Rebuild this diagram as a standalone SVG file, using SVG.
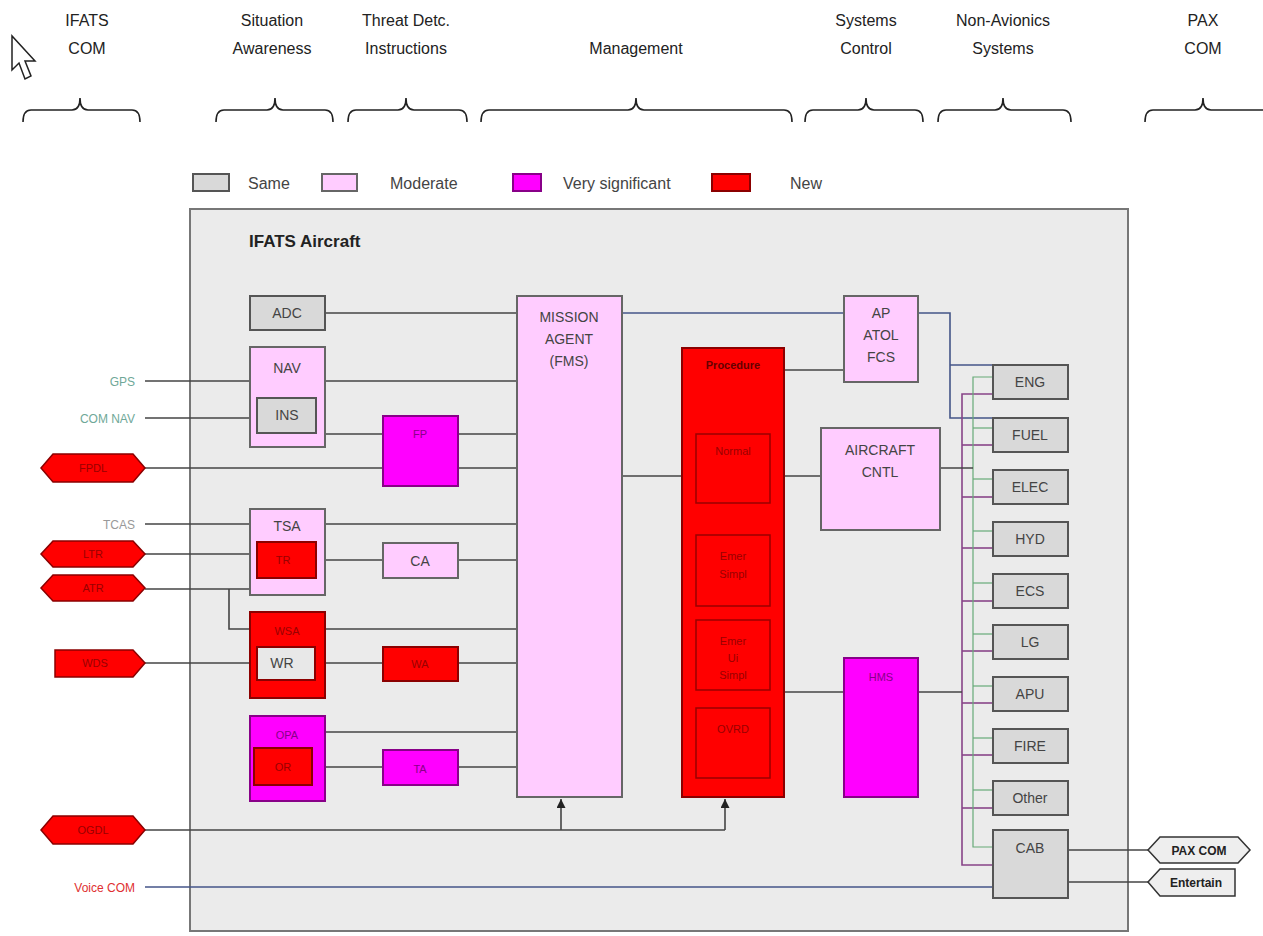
<svg xmlns="http://www.w3.org/2000/svg" width="1263" height="936" viewBox="0 0 1263 936">
<style>
text{font-family:"Liberation Sans",Arial,sans-serif}
.hdr{font-size:16px;fill:#222;text-anchor:middle}
.brace{fill:none;stroke:#222;stroke-width:1.6}
.leg{font-size:16px;fill:#444}
.same{fill:#d9d9d9;stroke:#555;stroke-width:2}
.mod{fill:#ffccff;stroke:#666;stroke-width:2}
.vs{fill:#ff00ff;stroke:#880088;stroke-width:2}
.new{fill:#ff0000;stroke:#8b0000;stroke-width:2}
.lbl{font-size:14px;fill:#444;text-anchor:middle}
.rl{font-size:11px;fill:#990000;text-anchor:middle}
.ml{font-size:11px;fill:#880088;text-anchor:middle}
.ln{fill:none;stroke:#444;stroke-width:1.6}
.bl{fill:none;stroke:#445588;stroke-width:1.6}
.pl{fill:none;stroke:#884488;stroke-width:1.6}
.gl{fill:none;stroke:#66aa77;stroke-width:1.2}
.hex{fill:#ff0000;stroke:#8b0000;stroke-width:1.5}
.out{fill:#eeeeee;stroke:#333;stroke-width:1.5}
</style>
<defs>
<marker id="arr" viewBox="0 0 10 10" refX="10" refY="5" markerWidth="9" markerHeight="9" orient="auto" markerUnits="userSpaceOnUse">
<path d="M0,0 L10,5 L0,10 Z" fill="#222"/>
</marker>
</defs>
<rect width="1263" height="936" fill="#ffffff"/>
<g id="cursor"><polygon points="12,36 12,70 19,63 25,79 31,76 25,61 35,61" fill="#fff" stroke="#222" stroke-width="1.5"/></g>
<g id="headers">
<text class="hdr" x="87" y="26">IFATS</text><text class="hdr" x="87" y="54">COM</text>
<text class="hdr" x="272" y="26">Situation</text><text class="hdr" x="272" y="54">Awareness</text>
<text class="hdr" x="406" y="26">Threat Detc.</text><text class="hdr" x="406" y="54">Instructions</text>
<text class="hdr" x="636" y="54">Management</text>
<text class="hdr" x="866" y="26">Systems</text><text class="hdr" x="866" y="54">Control</text>
<text class="hdr" x="1003" y="26">Non-Avionics</text><text class="hdr" x="1003" y="54">Systems</text>
<text class="hdr" x="1203" y="26">PAX</text><text class="hdr" x="1203" y="54">COM</text>
<path class="brace" d="M23,122 Q23,110 31,110 L72,110 Q80,110 80,98 Q80,110 88,110 L132,110 Q140,110 140,122"/>
<path class="brace" d="M216,122 Q216,110 224,110 L267,110 Q275,110 275,98 Q275,110 283,110 L325,110 Q333,110 333,122"/>
<path class="brace" d="M348,122 Q348,110 356,110 L398,110 Q406,110 406,98 Q406,110 414,110 L459,110 Q467,110 467,122"/>
<path class="brace" d="M481,122 Q481,110 489,110 L628,110 Q636,110 636,98 Q636,110 644,110 L784,110 Q792,110 792,122"/>
<path class="brace" d="M805,122 Q805,110 813,110 L858,110 Q866,110 866,98 Q866,110 874,110 L915,110 Q923,110 923,122"/>
<path class="brace" d="M938,122 Q938,110 946,110 L995,110 Q1003,110 1003,98 Q1003,110 1011,110 L1063,110 Q1071,110 1071,122"/>
<path class="brace" d="M1145,122 Q1145,110 1153,110 L1195,110 Q1203,110 1203,98 Q1203,110 1211,110 L1263,110"/>
</g>
<g id="legend">
<rect class="same" x="193" y="174" width="36" height="17"/><text class="leg" x="248" y="189">Same</text>
<rect class="mod" x="322" y="174" width="35" height="17"/><text class="leg" x="390" y="189">Moderate</text>
<rect class="vs" x="513" y="174" width="28" height="17"/><text class="leg" x="563" y="189">Very significant</text>
<rect class="new" x="712" y="174" width="38" height="17"/><text class="leg" x="790" y="189">New</text>
</g>
<g id="aircraft">
<rect x="190" y="209" width="938" height="722" fill="#ebebeb" stroke="#777" stroke-width="2"/>
<text x="249" y="247" font-size="17" font-weight="bold" fill="#222">IFATS Aircraft</text>
</g>
<g id="connectors">
<line class="ln" x1="145" y1="381" x2="250" y2="381"/>
<line class="ln" x1="145" y1="418" x2="250" y2="418"/>
<line class="ln" x1="145" y1="468" x2="517" y2="468"/>
<line class="ln" x1="325" y1="313" x2="517" y2="313"/>
<line class="ln" x1="325" y1="381" x2="517" y2="381"/>
<line class="ln" x1="325" y1="434" x2="517" y2="434"/>
<line class="ln" x1="145" y1="524" x2="250" y2="524"/>
<line class="ln" x1="325" y1="524" x2="517" y2="524"/>
<line class="ln" x1="145" y1="554" x2="250" y2="554"/>
<line class="ln" x1="325" y1="560" x2="517" y2="560"/>
<polyline class="ln" points="145,589 250,589"/>
<polyline class="ln" points="229,589 229,629 250,629"/>
<line class="ln" x1="325" y1="629" x2="517" y2="629"/>
<line class="ln" x1="145" y1="663" x2="257" y2="663"/>
<line class="ln" x1="315" y1="663" x2="517" y2="663"/>
<line class="ln" x1="325" y1="732" x2="517" y2="732"/>
<line class="ln" x1="312" y1="767" x2="517" y2="767"/>
<polyline class="ln" points="145,830 725,830"/>
<line class="ln" x1="561" y1="830" x2="561" y2="799" marker-end="url(#arr)"/>
<line class="ln" x1="725" y1="830" x2="725" y2="799" marker-end="url(#arr)"/>
<line class="bl" x1="145" y1="887" x2="993" y2="887"/>
<line class="bl" x1="622" y1="313" x2="844" y2="313"/>
<line class="ln" x1="784" y1="370" x2="844" y2="370"/>
<line class="ln" x1="622" y1="476" x2="682" y2="476"/>
<line class="ln" x1="784" y1="476" x2="821" y2="476"/>
<line class="ln" x1="784" y1="692" x2="844" y2="692"/>
<polyline class="bl" points="918,313 950,313 950,418 993,418"/>
<line class="bl" x1="950" y1="365" x2="993" y2="365"/>
<polyline class="pl" points="993,394 962,394 962,865 993,865"/>
<line class="pl" x1="962" y1="445" x2="993" y2="445"/>
<line class="pl" x1="962" y1="497" x2="993" y2="497"/>
<line class="pl" x1="962" y1="548" x2="993" y2="548"/>
<line class="pl" x1="962" y1="601" x2="993" y2="601"/>
<line class="pl" x1="962" y1="651" x2="993" y2="651"/>
<line class="pl" x1="962" y1="703" x2="993" y2="703"/>
<line class="pl" x1="962" y1="755" x2="993" y2="755"/>
<line class="pl" x1="962" y1="808" x2="993" y2="808"/>
<line class="ln" x1="918" y1="692" x2="962" y2="692"/>
<polyline class="gl" points="993,377 973,377 973,847 993,847"/>
<line class="gl" x1="973" y1="428" x2="993" y2="428"/>
<line class="gl" x1="973" y1="479" x2="993" y2="479"/>
<line class="gl" x1="973" y1="531" x2="993" y2="531"/>
<line class="gl" x1="973" y1="583" x2="993" y2="583"/>
<line class="gl" x1="973" y1="634" x2="993" y2="634"/>
<line class="gl" x1="973" y1="686" x2="993" y2="686"/>
<line class="gl" x1="973" y1="738" x2="993" y2="738"/>
<line class="gl" x1="973" y1="790" x2="993" y2="790"/>
<line class="ln" x1="940" y1="468" x2="973" y2="468" stroke="#557766"/>
<line class="ln" x1="1068" y1="850" x2="1148" y2="850"/>
<line class="ln" x1="1068" y1="882" x2="1148" y2="882"/>
</g>
<g id="ext-labels">
<text x="135" y="386" font-size="12" fill="#6fa898" text-anchor="end">GPS</text>
<text x="135" y="423" font-size="12" fill="#6fa898" text-anchor="end">COM NAV</text>
<text x="135" y="529" font-size="12" fill="#999" text-anchor="end">TCAS</text>
<text x="135" y="892" font-size="12" fill="#e03030" text-anchor="end">Voice COM</text>
</g>
<g id="FPDL"><polygon class="hex" points="41,468 53,454 133,454 145,468 133,482 53,482"/><text class="rl" x="93" y="472">FPDL</text></g>
<g id="LTR"><polygon class="hex" points="41,554 53,541 133,541 145,554 133,567 53,567"/><text class="rl" x="93" y="558">LTR</text></g>
<g id="ATR"><polygon class="hex" points="41,588 53,575 133,575 145,588 133,601 53,601"/><text class="rl" x="93" y="592">ATR</text></g>
<g id="WDS"><polygon class="hex" points="55,650 133,650 145,663 133,677 55,677"/><text class="rl" x="95" y="667">WDS</text></g>
<g id="OGDL"><polygon class="hex" points="41,830 53,816 133,816 145,830 133,844 53,844"/><text class="rl" x="93" y="834">OGDL</text></g>
<g id="ADC"><rect class="same" x="250" y="296" width="75" height="34"/><text class="lbl" x="287" y="318">ADC</text></g>
<g id="NAV"><rect class="mod" x="250" y="347" width="75" height="100"/><text class="lbl" x="287" y="373">NAV</text></g>
<g id="INS"><rect class="same" x="257" y="398" width="59" height="35"/><text class="lbl" x="287" y="420" font-size="12">INS</text></g>
<g id="FP"><rect class="vs" x="383" y="416" width="75" height="70"/><text class="ml" x="420" y="438">FP</text></g>
<g id="TSA"><rect class="mod" x="250" y="509" width="75" height="86"/><text class="lbl" x="287" y="531">TSA</text></g>
<g id="TR"><rect class="new" x="257" y="542" width="59" height="36"/><text class="rl" x="283" y="564">TR</text></g>
<g id="CA"><rect class="mod" x="383" y="543" width="75" height="35"/><text class="lbl" x="420" y="566">CA</text></g>
<g id="WSA"><rect class="new" x="250" y="612" width="75" height="86"/><text class="rl" x="287" y="635">WSA</text></g>
<g id="WR"><rect x="257" y="647" width="58" height="33" fill="#e8e8e8" stroke="#8b0000" stroke-width="2"/><text class="lbl" x="282" y="668" font-size="13">WR</text></g>
<g id="WA"><rect class="new" x="383" y="647" width="75" height="34"/><text class="rl" x="420" y="668">WA</text></g>
<g id="OPA"><rect class="vs" x="250" y="716" width="75" height="85"/><text class="ml" x="287" y="739" font-size="13">OPA</text></g>
<g id="OR"><rect class="new" x="254" y="748" width="58" height="37"/><text class="rl" x="283" y="771">OR</text></g>
<g id="TA"><rect class="vs" x="383" y="750" width="75" height="35"/><text class="ml" x="420" y="773" font-size="13">TA</text></g>
<g id="MISSION"><rect class="mod" x="517" y="296" width="105" height="501"/>
<text class="lbl" x="569" y="322">MISSION</text><text class="lbl" x="569" y="344">AGENT</text><text class="lbl" x="569" y="366">(FMS)</text></g>
<g id="Procedure"><rect class="new" x="682" y="348" width="102" height="449"/>
<text x="733" y="369" font-size="11" font-weight="bold" fill="#660000" text-anchor="middle">Procedure</text>
<rect x="696" y="434" width="74" height="69" fill="none" stroke="#990000" stroke-width="1.5"/><text class="rl" x="733" y="455" font-size="9">Normal</text>
<rect x="696" y="535" width="74" height="71" fill="none" stroke="#990000" stroke-width="1.5"/><text class="rl" x="733" y="560" font-size="9">Emer</text><text class="rl" x="733" y="578" font-size="9">Simpl</text>
<rect x="696" y="620" width="74" height="70" fill="none" stroke="#990000" stroke-width="1.5"/><text class="rl" x="733" y="645" font-size="9">Emer</text><text class="rl" x="733" y="662" font-size="9">Ui</text><text class="rl" x="733" y="679" font-size="9">Simpl</text>
<rect x="696" y="708" width="74" height="70" fill="none" stroke="#990000" stroke-width="1.5"/><text class="rl" x="733" y="733" font-size="10">OVRD</text></g>
<g id="AP"><rect class="mod" x="844" y="296" width="74" height="86"/>
<text class="lbl" x="881" y="318">AP</text><text class="lbl" x="881" y="340">ATOL</text><text class="lbl" x="881" y="362">FCS</text></g>
<g id="AIRCRAFT"><rect class="mod" x="821" y="428" width="119" height="102"/>
<text class="lbl" x="880" y="455">AIRCRAFT</text><text class="lbl" x="880" y="477">CNTL</text></g>
<g id="HMS"><rect class="vs" x="844" y="658" width="74" height="139"/><text class="ml" x="881" y="681" font-size="12">HMS</text></g>
<g id="ENG"><rect class="same" x="993" y="365" width="75" height="34"/><text class="lbl" x="1030" y="387" font-size="13">ENG</text></g>
<g id="FUEL"><rect class="same" x="993" y="418" width="75" height="34"/><text class="lbl" x="1030" y="440" font-size="13">FUEL</text></g>
<g id="ELEC"><rect class="same" x="993" y="470" width="75" height="34"/><text class="lbl" x="1030" y="492" font-size="13">ELEC</text></g>
<g id="HYD"><rect class="same" x="993" y="522" width="75" height="34"/><text class="lbl" x="1030" y="544" font-size="13">HYD</text></g>
<g id="ECS"><rect class="same" x="993" y="574" width="75" height="34"/><text class="lbl" x="1030" y="596" font-size="13">ECS</text></g>
<g id="LG"><rect class="same" x="993" y="625" width="75" height="34"/><text class="lbl" x="1030" y="647" font-size="13">LG</text></g>
<g id="APU"><rect class="same" x="993" y="677" width="75" height="34"/><text class="lbl" x="1030" y="699" font-size="13">APU</text></g>
<g id="FIRE"><rect class="same" x="993" y="729" width="75" height="34"/><text class="lbl" x="1030" y="751" font-size="13">FIRE</text></g>
<g id="Other"><rect class="same" x="993" y="781" width="75" height="34"/><text class="lbl" x="1030" y="803" font-size="13">Other</text></g>
<g id="CAB"><rect class="same" x="993" y="830" width="75" height="68"/><text class="lbl" x="1030" y="853" font-size="13">CAB</text></g>
<g id="PAXCOM"><polygon class="out" points="1148,850 1160,837 1238,837 1250,850 1238,863 1160,863"/><text x="1199" y="855" font-size="12" font-weight="bold" fill="#222" text-anchor="middle">PAX COM</text></g>
<g id="Entertain"><polygon class="out" points="1148,882 1160,869 1235,869 1235,896 1160,896"/><text x="1196" y="887" font-size="12" font-weight="bold" fill="#222" text-anchor="middle">Entertain</text></g>
</svg>
